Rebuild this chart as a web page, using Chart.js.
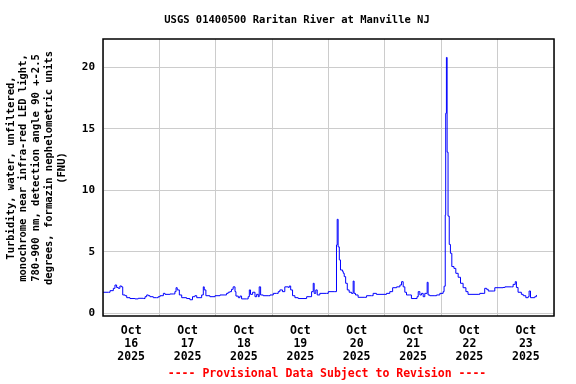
<!DOCTYPE html>
<html>
<head>
<meta charset="utf-8">
<script src="https://cdn.jsdelivr.net/npm/chart.js@4.4.1/dist/chart.umd.min.js"></script>
<style>
    body { margin: 0; background: #ffffff; }
    #wrap { width: 576px; height: 384px; position: relative; }
</style>
</head>
<body>
<div id="wrap"><canvas id="turbidityChart"></canvas></div>
<script>
// hours since Oct 16 2025 00:00
const hours = [
    0, 2.3, 3.0, 4.4, 5.1, 5.8, 6.5, 7.2, 7.9, 8.4, 9.4, 10.1, 11.5, 13.6, 15.0, 17.2, 17.9, 18.6, 19.3, 20.0,
    21.4, 22.8, 23.5, 24.3, 25.7, 26.4, 28.5, 29.9, 30.6, 31.1, 31.6, 32.5, 33.5, 35.6, 37.0, 38.1, 39.1, 39.9,
    41.3, 42.0, 42.7, 43.1, 43.8, 45.5, 47.7, 49.8, 51.9, 52.6, 53.3, 54.0, 54.7, 55.4, 56.2, 56.6, 57.6, 58.3,
    59.0, 61.1, 61.8, 62.3, 62.8, 63.7, 64.7, 65.4, 66.1, 66.5, 67.1, 68.2, 70.3, 71.1, 72.5, 73.9, 74.6, 75.3,
    76.4, 77.4, 78.9, 79.3, 79.9, 80.7, 81.7, 83.1, 86.0, 86.7, 88.1, 88.8, 89.5, 89.9, 90.6, 91.2, 92.3, 95.2,
    95.9, 98.7, 99.4, 99.7, 100.1, 100.6, 101.1, 102.0, 102.3, 102.7, 103.3, 104.0, 104.8, 105.8, 106.5, 106.9,
    107.5, 108.6, 111.5, 112.2, 114.3, 115.0, 116.4, 120.0, 120.7, 122.1, 123.3, 125.0, 126.4, 127.1, 127.8,
    128.5, 129.2, 130.6, 131.3, 132.8, 133.7, 134.2, 134.9, 135.6, 136.3, 137.0, 138.0, 138.4, 139.1, 141.3,
    142.0, 143.4, 144.8, 145.2, 145.7, 145.9, 146.2, 146.5, 146.9, 147.4, 147.9, 148.5, 149.4, 150.2, 151.2,
    152.2, 153.3, 154.5, 155.4, 159.7, 160.4, 161.8, 162.5, 163.3, 164.0, 166.1, 166.8, 170.3, 171.1, 173.9,
    174.6, 175.5, 176.0, 176.7, 178.1, 178.9, 180.0, 181.0, 181.4, 182.0, 183.8, 184.5
];
const turbidity = [
    1.71, 1.71, 1.84, 2.03, 2.30, 2.10, 2.03, 2.22, 2.15, 1.49, 1.43, 1.27, 1.20, 1.17, 1.22, 1.20, 1.35, 1.49, 1.43, 1.35,
    1.27, 1.27, 1.35, 1.43, 1.62, 1.54, 1.57, 1.57, 1.76, 2.08, 1.90, 1.49, 1.27, 1.20, 1.10, 1.35, 1.43, 1.27,
    1.27, 1.49, 2.15, 1.90, 1.43, 1.35, 1.43, 1.49, 1.49, 1.62, 1.71, 1.76, 1.95, 2.15, 1.76, 1.40, 1.27, 1.40,
    1.17, 1.17, 1.35, 1.90, 1.54, 1.71, 1.35, 1.54, 1.35, 2.15, 1.49, 1.43, 1.43, 1.49, 1.62, 1.62, 1.76, 1.90,
    1.76, 2.15, 2.10, 2.22, 1.90, 1.43, 1.27, 1.20, 1.20, 1.35, 1.35, 1.76, 2.44, 1.62, 1.90, 1.49, 1.62, 1.62,
    1.76, 1.76, 5.55, 7.64, 5.40, 4.34, 3.52, 3.39, 3.25, 2.98, 2.44, 1.90, 1.71, 1.62, 2.62, 1.62,
    1.49, 1.30, 1.30, 1.43, 1.43, 1.62, 1.54, 1.54, 1.62, 1.76, 2.08, 2.15, 2.30, 2.57, 2.15,
    1.71, 1.49, 1.49, 1.20, 1.20, 1.35, 1.76, 1.49, 1.62, 1.35, 1.62, 2.52, 1.49, 1.43, 1.43,
    1.49, 1.62, 1.76, 2.20, 8.00, 16.26, 20.80, 13.10, 7.90, 5.60, 4.88, 3.80, 3.65, 3.25, 2.93,
    2.44, 2.08, 1.76, 1.54, 1.54, 1.62, 1.62, 2.03, 1.95, 1.81, 1.81, 2.08, 2.10, 2.15, 2.15,
    2.35, 2.57, 2.10, 1.71, 1.54, 1.43, 1.27, 1.35, 1.81, 1.27, 1.35, 1.49
];
const dayLabels = ["16", "17", "18", "19", "20", "21", "22", "23"];
const yTicks = [0, 5, 10, 15, 20];

const titleText = "USGS 01400500 Raritan River at Manville NJ";
const yTitleLines = [
    "Turbidity, water, unfiltered,",
    "monochrome near infra-red LED light,",
    "780-900 nm, detection angle 90 +-2.5",
    "degrees, formazin nephelometric units",
    "(FNU)"
];
const footerText = "---- Provisional Data Subject to Revision ----";

const FONT = "'DejaVu Sans Mono', monospace";

const textPlugin = {
    id: "usgsText",
    afterDraw(chart) {
        const c = chart.ctx;
        const area = chart.chartArea;
        c.save();
        // frame
        c.strokeStyle = "#000000";
        c.lineWidth = 1.5;
        c.strokeRect(area.left, area.top, area.right - area.left, area.bottom - area.top);

        c.fillStyle = "#000000";
        c.textAlign = "center";
        c.textBaseline = "middle";
        c.font = "bold 10.5px " + FONT;
        c.fillText(titleText, 297, 20.5);

        c.save();
        c.translate(0, 168);
        c.rotate(-Math.PI / 2);
        yTitleLines.forEach((line, i) => {
            c.fillText(line, 0, 11 + i * 12.7);
        });
        c.restore();

        c.fillStyle = "#ff0000";
        c.font = "bold 11.5px " + FONT;
        c.fillText(footerText, 327, 374.5);
        c.restore();
    }
};

new Chart(document.getElementById("turbidityChart"), {
    type: "line",
    data: {
        datasets: [{
            data: hours.map((h, i) => ({ x: h, y: turbidity[i] })),
            borderColor: "#0000ff",
            borderWidth: 1,
            pointRadius: 0,
            stepped: true,
            fill: false
        }]
    },
    options: {
        responsive: true,
        maintainAspectRatio: false,
        animation: false,
        layout: { padding: { top: 39, right: 22, left: 0, bottom: 0 } },
        plugins: {
            legend: { display: false },
            tooltip: { enabled: false }
        },
        scales: {
            x: {
                type: "linear",
                min: 0,
                max: 192,
                afterBuildTicks: (scale) => {
                    const t = [];
                    for (let v = 0; v <= 192; v += 12) t.push({ value: v });
                    scale.ticks = t;
                },
                afterFit: (scale) => { scale.height = 68; },
                border: { display: false },
                grid: {
                    drawTicks: false,
                    lineWidth: 1,
                    color: (ctx) => (ctx.tick && ctx.tick.value % 24 === 0 ? "#cccccc" : "rgba(0,0,0,0)")
                },
                ticks: {
                    autoSkip: false,
                    maxRotation: 0,
                    padding: 8.5,
                    color: "#000000",
                    font: { family: FONT, size: 11.5, weight: "bold", lineHeight: 1.12 },
                    callback: (value) => {
                        if (value % 24 !== 12) return "";
                        return ["Oct", dayLabels[Math.floor(value / 24)], "2025"];
                    }
                }
            },
            y: {
                min: -0.22,
                max: 22.3,
                afterBuildTicks: (scale) => {
                    scale.ticks = yTicks.map((v) => ({ value: v }));
                },
                afterFit: (scale) => { scale.width = 103; },
                border: { display: false },
                grid: { drawTicks: false, color: "#cccccc", lineWidth: 1 },
                ticks: {
                    padding: 8,
                    color: "#000000",
                    font: { family: FONT, size: 11, weight: "bold" }
                }
            }
        }
    },
    plugins: [textPlugin]
});
</script>
</body>
</html>
